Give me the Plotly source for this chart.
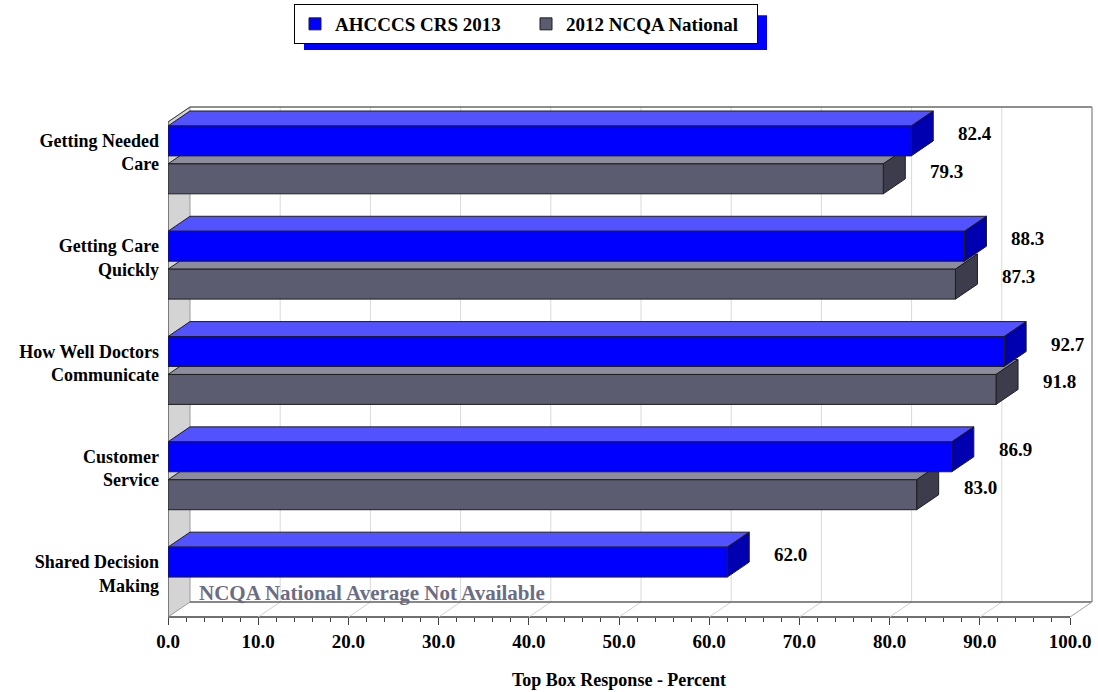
import plotly.graph_objects as go

# ---- data -------------------------------------------------------------
categories = [
    "Getting Needed<br>Care",
    "Getting Care<br>Quickly",
    "How Well Doctors<br>Communicate",
    "Customer<br>Service",
    "Shared Decision<br>Making",
]
ahcccs_2013 = [82.4, 88.3, 92.7, 86.9, 62.0]
ncqa_2012 = [79.3, 87.3, 91.8, 83.0, None]
x_tick_values = [0, 10, 20, 30, 40, 50, 60, 70, 80, 90, 100]
x_tick_labels = ["0.0", "10.0", "20.0", "30.0", "40.0", "50.0",
                 "60.0", "70.0", "80.0", "90.0", "100.0"]
series_names = ["AHCCCS CRS 2013", "2012 NCQA National"]

# ---- geometry (pixels -> axis units) ----------------------------------
W, H = 1098, 692
PLOT_L, PLOT_R, PLOT_T, PLOT_B = 168, 1093, 103, 617
PX_PER_X = 9.02          # pixels per percentage point
ROW_PX = 105.5           # pixels between category rows
ROW0_PX = 159            # pixel y of first row centre
X_MAX = (PLOT_R - PLOT_L) / PX_PER_X
Y_TOP = -(ROW0_PX - PLOT_T) / ROW_PX
Y_BOT = (PLOT_B - ROW0_PX) / ROW_PX
DX = 22 / PX_PER_X       # depth of the 3-D box, horizontal
DY = 15 / ROW_PX         # depth of the 3-D box, vertical
BACK_TOP = -(ROW0_PX - 106) / ROW_PX
FRONT_TOP = BACK_TOP + DY
BACK_FLOOR = Y_BOT - DY
BAR_OFF = 19 / ROW_PX
BAR_W = 30 / ROW_PX

FONT = "Liberation Serif"

BLUE = dict(front="#0000FF", top="#5252FF", side="#0000B0")
GRAY = dict(front="#5C5C70", top="#8C8C9C", side="#3C3C4C")
EDGE = "#1E1E1E"


def px_to_paper_x(px):
    return (px - PLOT_L) / (PLOT_R - PLOT_L)


def px_to_paper_y(py):
    return (PLOT_B - py) / (PLOT_B - PLOT_T)


def poly(points):
    return "M " + " L ".join(f"{x},{y}" for x, y in points) + " Z"


shapes = []

# back wall grid lines and floor diagonals
for v in x_tick_values[1:]:
    shapes.append(dict(type="line", xref="x", yref="y",
                       x0=v + DX, x1=v + DX, y0=BACK_FLOOR, y1=BACK_TOP,
                       line=dict(color="#D9D9D9", width=1), layer="below"))
    shapes.append(dict(type="line", xref="x", yref="y",
                       x0=v, x1=v + DX, y0=Y_BOT, y1=BACK_FLOOR,
                       line=dict(color="#D0D0D0", width=1), layer="below"))

# left side wall
shapes.append(dict(type="path", xref="x", yref="y", layer="below",
                   path=poly([(0, FRONT_TOP), (DX, BACK_TOP), (DX, BACK_FLOOR), (0, Y_BOT)]),
                   fillcolor="#D4D4D4", line=dict(color="#9A9A9A", width=1)))
shapes.append(dict(type="line", xref="x", yref="y", layer="below",
                   x0=0, x1=0, y0=FRONT_TOP, y1=Y_BOT,
                   line=dict(color="#404040", width=1)))

# box outline: top edge, right edge, back floor edge, front axis line
shapes.append(dict(type="line", xref="x", yref="y", layer="below",
                   x0=DX, x1=100 + DX, y0=BACK_TOP, y1=BACK_TOP,
                   line=dict(color="#202020", width=1.2)))
shapes.append(dict(type="line", xref="x", yref="y", layer="below",
                   x0=0, x1=DX, y0=FRONT_TOP, y1=BACK_TOP,
                   line=dict(color="#404040", width=1)))
shapes.append(dict(type="line", xref="x", yref="y", layer="below",
                   x0=100 + DX, x1=100 + DX, y0=BACK_TOP, y1=BACK_FLOOR,
                   line=dict(color="#A0A0A0", width=1.5)))
shapes.append(dict(type="line", xref="x", yref="y", layer="below",
                   x0=DX, x1=100 + DX, y0=BACK_FLOOR, y1=BACK_FLOOR,
                   line=dict(color="#606060", width=1.5)))
shapes.append(dict(type="line", xref="x", yref="y", layer="below",
                   x0=100, x1=100 + DX, y0=Y_BOT, y1=BACK_FLOOR,
                   line=dict(color="#B0B0B0", width=1)))
shapes.append(dict(type="line", xref="x", yref="paper", layer="below",
                   x0=0, x1=100, y0=0, y1=0,
                   line=dict(color="#404040", width=1.5)))


def bar_faces(value, centre, colors):
    top = centre - BAR_W / 2
    bot = centre + BAR_W / 2
    return [
        dict(type="path", xref="x", yref="y", layer="below",
             path=poly([(0, top), (DX, top - DY), (value + DX, top - DY), (value, top)]),
             fillcolor=colors["top"], line=dict(color=EDGE, width=1)),
        dict(type="path", xref="x", yref="y", layer="below",
             path=poly([(value, top), (value + DX, top - DY), (value + DX, bot - DY), (value, bot)]),
             fillcolor=colors["side"], line=dict(color=EDGE, width=1)),
    ]


annotations = []
for i in range(len(categories)):
    if ncqa_2012[i] is not None:
        shapes.extend(bar_faces(ncqa_2012[i], i + BAR_OFF, GRAY))
    shapes.extend(bar_faces(ahcccs_2013[i], i - BAR_OFF, BLUE))

    for val, off in ((ahcccs_2013[i], -BAR_OFF), (ncqa_2012[i], BAR_OFF)):
        if val is None:
            continue
        annotations.append(dict(x=val + DX, y=i + off - DY / 2, xref="x", yref="y",
                                text=f"<b>{val:.1f}</b>", showarrow=False, xanchor="left",
                                yanchor="middle", xshift=23,
                                font=dict(family=FONT, size=19, color="black")))

annotations.append(dict(x=DX, y=4 + BAR_OFF - DY / 2, xref="x", yref="y",
                        text="<b>NCQA National Average Not Available</b>", showarrow=False,
                        xanchor="left", yanchor="middle", xshift=7,
                        font=dict(family=FONT, size=21, color="#6C6C82")))

annotations.append(dict(x=50, y=px_to_paper_y(680), xref="x", yref="paper",
                        text="<b>Top Box Response - Percent</b>", showarrow=False,
                        xanchor="center", yanchor="middle",
                        font=dict(family=FONT, size=18, color="black")))

# legend drop shadow
shapes.append(dict(type="rect", xref="paper", yref="paper",
                   x0=px_to_paper_x(304), x1=px_to_paper_x(767),
                   y0=px_to_paper_y(49), y1=px_to_paper_y(14),
                   fillcolor="#0000FF", line=dict(width=0), layer="below"))

y_rows = list(range(len(categories)))

fig = go.Figure()
fig.add_trace(go.Bar(
    name=f"<b>{series_names[0]}</b>", orientation="h",
    x=ahcccs_2013, y=[r - BAR_OFF for r in y_rows], width=BAR_W,
    marker=dict(color=BLUE["front"], line=dict(color=EDGE, width=1)),
    hoverinfo="x",
))
fig.add_trace(go.Bar(
    name=f"<b>{series_names[1]}</b>", orientation="h",
    x=ncqa_2012, y=[r + BAR_OFF for r in y_rows], width=BAR_W,
    marker=dict(color=GRAY["front"], line=dict(color=EDGE, width=1)),
    hoverinfo="x",
))

fig.update_layout(
    width=W, height=H,
    margin=dict(l=PLOT_L, r=W - PLOT_R, t=PLOT_T, b=H - PLOT_B, pad=0),
    paper_bgcolor="white", plot_bgcolor="white",
    barmode="overlay",
    font=dict(family=FONT, color="black"),
    shapes=shapes, annotations=annotations,
    showlegend=True,
    legend=dict(
        orientation="h", x=px_to_paper_x(294), y=px_to_paper_y(4),
        xanchor="left", yanchor="top",
        bgcolor="white", bordercolor="black", borderwidth=1,
        entrywidth=186, entrywidthmode="pixels",
        font=dict(family=FONT, size=19, color="black"),
        traceorder="normal",
    ),
    xaxis=dict(
        range=[0, X_MAX], showgrid=False, zeroline=False, showline=False,
        tickmode="array", tickvals=x_tick_values,
        ticktext=[f"<b>{t}</b>" for t in x_tick_labels],
        ticks="outside", ticklen=7, tickcolor="#404040", tickwidth=1,
        tickfont=dict(family=FONT, size=19, color="black"),
        minor=dict(tickmode="array",
                   tickvals=[v for v in range(2, 100, 2) if v % 10],
                   ticks="outside", ticklen=4, tickcolor="#404040"),
        fixedrange=True,
    ),
    yaxis=dict(
        range=[Y_BOT, Y_TOP], showgrid=False, zeroline=False, showline=False,
        tickmode="array", tickvals=[r - DY / 2 for r in y_rows],
        ticktext=["<br>".join(f"<b>{part}</b>" for part in c.split("<br>")) for c in categories],
        ticks="", tickfont=dict(family=FONT, size=18, color="black"),
        ticklabelstandoff=8, fixedrange=True,
    ),
)

fig.write_html("out.html")
